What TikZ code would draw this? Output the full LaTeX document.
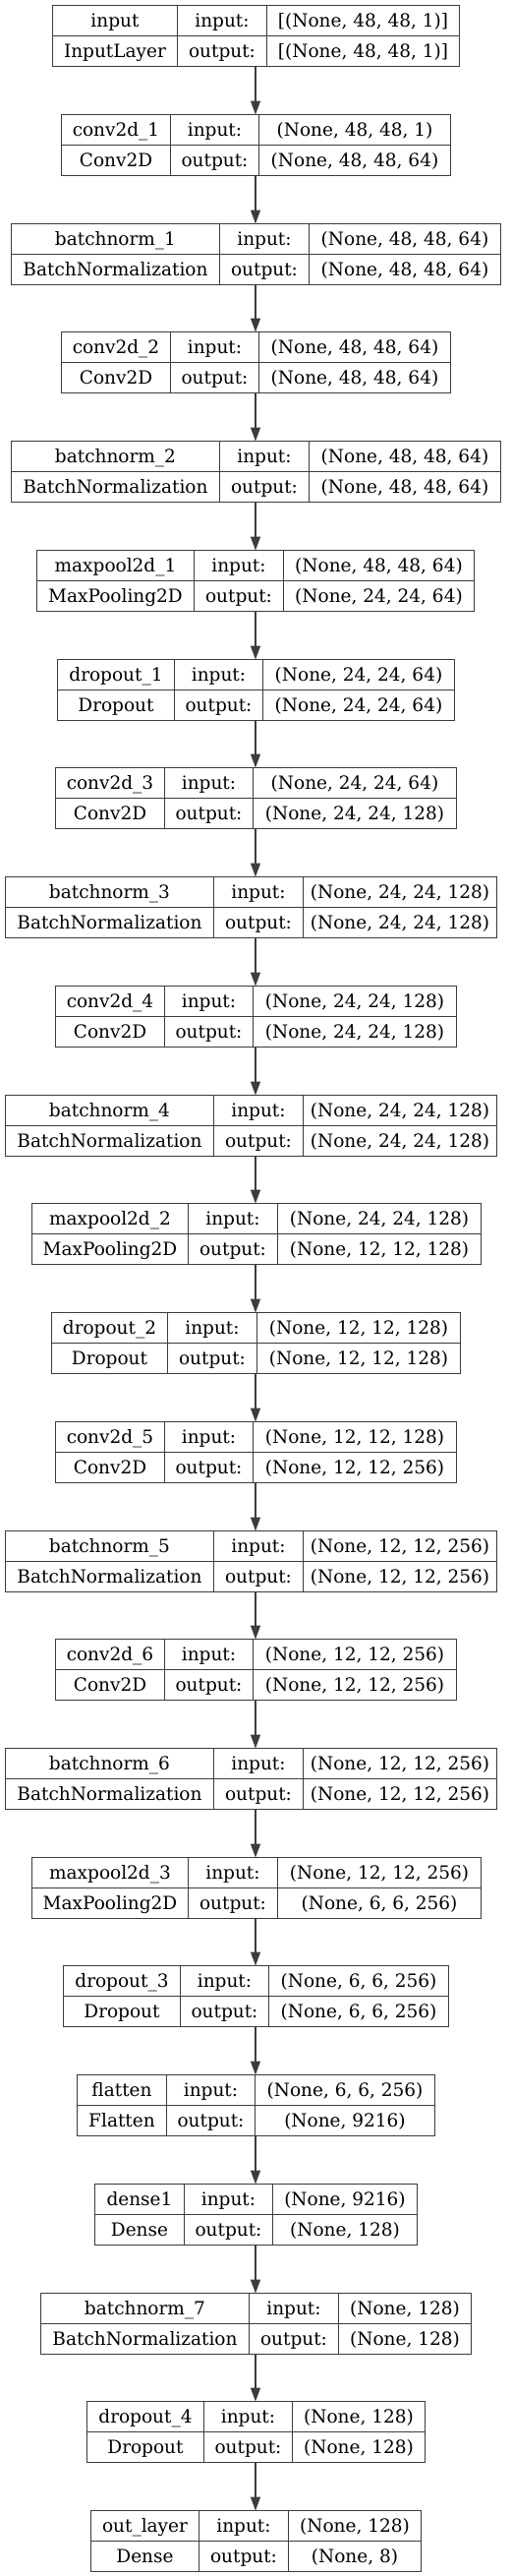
\documentclass[tikz,border=0pt]{standalone}
\usepackage{fontspec}
\setmainfont{DejaVu Serif}
\usetikzlibrary{arrows.meta}
\definecolor{lc}{HTML}{3C3C3C}
\newcommand\lyr[9]{%
  \pgfmathsetmacro\tp{-(round(5.3+110.73*#1)+0.5)}%
  \pgfmathsetmacro\md{\tp-31}%
  \pgfmathsetmacro\bt{\tp-62}%
  \pgfmathsetmacro\ra{\tp-15.5}%
  \pgfmathsetmacro\rb{\tp-46.5}%
  \pgfmathsetmacro\xa{round(#2)+0.5}%
  \pgfmathsetmacro\xb{round(#3)+0.5}%
  \pgfmathsetmacro\xc{round(#4)+0.5}%
  \pgfmathsetmacro\xd{round(#5)+0.5}%
  \node[frame, minimum width={(\xd-\xa)*1pt}, anchor=north west] (L#1) at (\xa,\tp) {};
  \draw[grid] (\xa,\md) -- (\xd,\md) (\xb,\tp) -- (\xb,\bt) (\xc,\tp) -- (\xc,\bt);
  \node[txt] (N#1) at ({(\xa+\xb)/2},\ra) {#6};
  \node[txt] (T#1) at ({(\xa+\xb)/2},\rb) {#7};
  \node[txt] (I#1) at ({(\xb+\xc)/2},\ra) {input:};
  \node[txt] (O#1) at ({(\xb+\xc)/2},\rb) {output:};
  \node[txt] (IV#1) at ({(\xc+\xd)/2},\ra) {#8};
  \node[txt] (OV#1) at ({(\xc+\xd)/2},\rb) {#9};
}
\begin{document}
\begin{tikzpicture}[x=1pt,y=1pt,
  frame/.style={draw=lc, line width=1.2pt, minimum height=62pt, inner sep=0pt, outer sep=0pt},
  grid/.style={draw=lc, line width=1.2pt},
  txt/.style={inner sep=0pt, outer sep=0pt, text height=13.4pt, text depth=0pt,
    font=\fontsize{18.5}{20}\selectfont},
  conn/.style={draw=lc, line width=1.2pt, -{Triangle[length=14pt,width=10pt]}}]
\useasboundingbox (0,0) rectangle (520,-2619);
\coordinate (axis) at (260,0);
\lyr{0}{53.3}{180}{270.7}{466.7}{input}{InputLayer}{[(None, 48, 48, 1)]}{[(None, 48, 48, 1)]}
\lyr{1}{61.7}{172.7}{263.3}{457.7}{conv2d\_1}{Conv2D}{(None, 48, 48, 1)}{(None, 48, 48, 64)}
\lyr{2}{11}{223.3}{314}{509}{batchnorm\_1}{BatchNormalization}{(None, 48, 48, 64)}{(None, 48, 48, 64)}
\lyr{3}{61.7}{172.7}{263.3}{457.7}{conv2d\_2}{Conv2D}{(None, 48, 48, 64)}{(None, 48, 48, 64)}
\lyr{4}{11}{223.3}{314}{509}{batchnorm\_2}{BatchNormalization}{(None, 48, 48, 64)}{(None, 48, 48, 64)}
\lyr{5}{36.7}{197.3}{287.7}{482.3}{maxpool2d\_1}{MaxPooling2D}{(None, 48, 48, 64)}{(None, 24, 24, 64)}
\lyr{6}{57.7}{176.7}{267.3}{461.7}{dropout\_1}{Dropout}{(None, 24, 24, 64)}{(None, 24, 24, 64)}
\lyr{7}{55.7}{166.7}{257.3}{464}{conv2d\_3}{Conv2D}{(None, 24, 24, 64)}{(None, 24, 24, 128)}
\lyr{8}{4.7}{217.3}{308}{505}{batchnorm\_3}{BatchNormalization}{(None, 24, 24, 128)}{(None, 24, 24, 128)}
\lyr{9}{55.7}{166.7}{257.3}{464}{conv2d\_4}{Conv2D}{(None, 24, 24, 128)}{(None, 24, 24, 128)}
\lyr{10}{4.7}{217.3}{308}{505}{batchnorm\_4}{BatchNormalization}{(None, 24, 24, 128)}{(None, 24, 24, 128)}
\lyr{11}{31.7}{191.3}{282}{488.7}{maxpool2d\_2}{MaxPooling2D}{(None, 24, 24, 128)}{(None, 12, 12, 128)}
\lyr{12}{51.7}{170.3}{261}{468.3}{dropout\_2}{Dropout}{(None, 12, 12, 128)}{(None, 12, 12, 128)}
\lyr{13}{55.7}{166.7}{257.3}{464}{conv2d\_5}{Conv2D}{(None, 12, 12, 128)}{(None, 12, 12, 256)}
\lyr{14}{4.7}{217.3}{308}{505}{batchnorm\_5}{BatchNormalization}{(None, 12, 12, 256)}{(None, 12, 12, 256)}
\lyr{15}{55.7}{166.7}{257.3}{464}{conv2d\_6}{Conv2D}{(None, 12, 12, 256)}{(None, 12, 12, 256)}
\lyr{16}{4.7}{217.3}{308}{505}{batchnorm\_6}{BatchNormalization}{(None, 12, 12, 256)}{(None, 12, 12, 256)}
\lyr{17}{31.7}{191.3}{282}{488.7}{maxpool2d\_3}{MaxPooling2D}{(None, 12, 12, 256)}{(None, 6, 6, 256)}
\lyr{18}{63.7}{182.7}{273.3}{456}{dropout\_3}{Dropout}{(None, 6, 6, 256)}{(None, 6, 6, 256)}
\lyr{19}{77.7}{168.7}{259.3}{442}{flatten}{Flatten}{(None, 6, 6, 256)}{(None, 9216)}
\lyr{20}{96}{186.7}{277.3}{424}{dense1}{Dense}{(None, 9216)}{(None, 128)}
\lyr{21}{41}{253.3}{344}{478.7}{batchnorm\_7}{BatchNormalization}{(None, 128)}{(None, 128)}
\lyr{22}{87.7}{206.7}{297}{432.3}{dropout\_4}{Dropout}{(None, 128)}{(None, 128)}
\lyr{23}{91.7}{202.3}{293.3}{428}{out\_layer}{Dense}{(None, 128)}{(None, 8)}
\foreach \i [evaluate=\i as \j using int(\i+1)] in {0,...,22}
  \draw[conn] (L\i.south -| axis) -- (L\j.north -| axis);
\end{tikzpicture}
\end{document}
